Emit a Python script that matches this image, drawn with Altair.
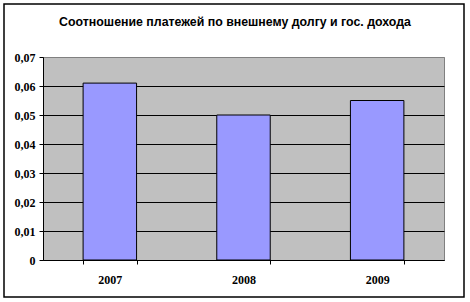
import altair as alt
import pandas as pd

title_text = "Соотношение платежей по внешнему долгу и гос. дохода"
years = ["2007", "2008", "2009"]
ratios = [0.061, 0.050, 0.055]
y_ticks = [0, 0.01, 0.02, 0.03, 0.04, 0.05, 0.06, 0.07]

df = pd.DataFrame({"year": years, "ratio": ratios})
one = pd.DataFrame({"t": [title_text]})

W, H = 401, 203

frame = alt.Chart(one).mark_rect(
    fillOpacity=0, stroke="black", strokeWidth=1.5
).encode(
    x=alt.value(-39), x2=alt.value(421), y=alt.value(-53), y2=alt.value(240)
)

title = alt.Chart(one).mark_text(
    font="Liberation Sans", fontSize=12.35, fontWeight="bold", color="black",
    align="center", baseline="middle"
).encode(text="t:N", x=alt.value(192), y=alt.value(-35))

bars = alt.Chart(df).mark_bar(
    color="#9999FF", stroke="black", strokeWidth=1
).encode(
    x=alt.X("year:N", sort=years, title=None,
            scale=alt.Scale(paddingInner=0.6, paddingOuter=0.3),
            axis=alt.Axis(labelAngle=0, tickBand="extent", domainColor="black",
                          tickColor="black", tickSize=4, labelPadding=10,
                          labelFont="Liberation Serif", labelFontSize=12,
                          labelFontWeight="bold", labelColor="black", grid=False)),
    y=alt.Y("ratio:Q", title=None,
            scale=alt.Scale(domain=[0, 0.07], nice=False),
            axis=alt.Axis(values=y_ticks, domainColor="black", tickColor="black",
                          tickSize=4, labelPadding=4,
                          labelExpr="datum.value == 0 ? '0' : replace(format(datum.value, '.2f'), '.', ',')",
                          labelFont="Liberation Serif", labelFontSize=12,
                          labelFontWeight="bold", labelColor="black",
                          grid=True,
                          gridColor={"condition": {"test": "datum.value >= 0.069", "value": "#808080"}, "value": "black"},
                          gridOpacity=1, gridWidth=1)),
)

chart = alt.layer(frame, bars, title).properties(
    width=W, height=H,
    autosize=alt.AutoSizeParams(type="none"),
    padding={"left": 43, "top": 57, "right": 26, "bottom": 42},
    background="white",
).configure_view(fill="#C0C0C0", stroke="#808080", strokeWidth=1)

chart.save("out.html", embed_options={"renderer": "svg", "actions": False})
